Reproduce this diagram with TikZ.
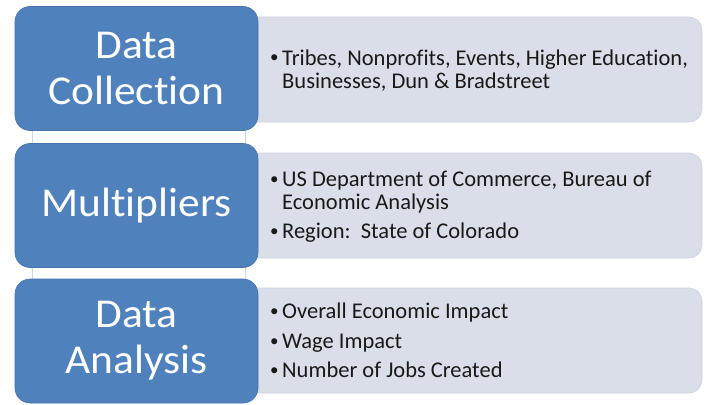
\documentclass[tikz,border=0pt]{standalone}
\usepackage{fontspec}
\setmainfont{Carlito}[Ligatures={NoCommon}]
\newfontfamily\widefont{Carlito}[FakeStretch=1.06,Ligatures={NoCommon}]
\definecolor{blockblue}{RGB}{79,129,189}
\definecolor{greyfill}{RGB}{218,222,233}
\definecolor{greyedge}{RGB}{205,210,222}
\definecolor{linkedge}{RGB}{200,214,234}
\definecolor{txtdark}{RGB}{25,25,25}
\tikzset{
  bluebox/.style={draw=blockblue!90!black, line width=0.6pt, fill=blockblue, rounded corners=15pt,
    minimum width=243pt, minimum height=124pt, inner sep=0pt, text=white,
    font=\widefont\fontsize{41}{46}\selectfont, align=center},
  greybox/.style={draw=greyedge, line width=0.6pt, fill=greyfill, rounded corners=13pt,
    minimum width=470pt, minimum height=105pt, inner sep=0pt},
  linkbox/.style={draw=linkedge, line width=0.6pt, fill=white, minimum width=213pt, minimum height=30pt, inner sep=0pt},
  bul/.style={anchor=base west, inner sep=0pt, text=txtdark, font=\fontsize{17}{23}\selectfont},
  item/.style={anchor=base west, inner sep=0pt, text=txtdark, font=\fontsize{22.5}{23}\selectfont}
}
\begin{document}
\begin{tikzpicture}[x=1pt,y=-1pt]
\useasboundingbox (0,0) rectangle (708,404);
% links between blocks
\node[linkbox] (l1) at (138.5,137) {};
\node[linkbox] (l2) at (138.5,274) {};
% grey detail boxes
\node[greybox] (g1) at (467,69.5) {};
\node[greybox] (g2) at (467,205.5) {};
\node[greybox] (g3) at (467,340.5) {};
% blue blocks
\node[bluebox] (b1) at (136.5,68.5) {Data\\Collection};
\node[bluebox] (b2) at (136.5,205.5) {Multipliers};
\node[bluebox] (b3) at (136.5,341) {Data\\Analysis};
% texts block 1
\node[bul] (d1) at (270,63) {•};
\node[item] (t1) at (282,65) {Tribes, Nonprofits, Events, Higher Education,};
\node[item] (t2) at (282,88) {Businesses, Dun \& Bradstreet};
% texts block 2
\node[bul] (d2) at (270,184) {•};
\node[item] (t3) at (282,186) {US Department of Commerce, Bureau of};
\node[item] (t4) at (282,209) {Economic Analysis};
\node[bul] (d3) at (270,236) {•};
\node[item] (t5) at (282,238) {Region:\ \ State of Colorado};
% texts block 3
\node[bul] (d4) at (270,316) {•};
\node[item] (t6) at (282,318) {Overall Economic Impact};
\node[bul] (d5) at (270,346) {•};
\node[item] (t7) at (282,348) {Wage Impact};
\node[bul] (d6) at (270,375) {•};
\node[item] (t8) at (282,377) {Number of Jobs Created};
\end{tikzpicture}
\end{document}
